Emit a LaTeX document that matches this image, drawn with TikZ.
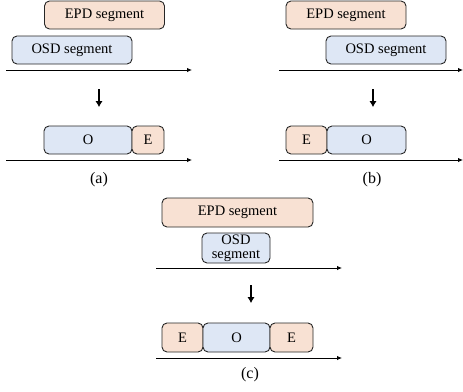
\documentclass[tikz,border=0pt]{standalone}
\usepackage{fontspec}
\setmainfont{Liberation Serif}
\usetikzlibrary{arrows.meta}
\definecolor{epdc}{HTML}{F8E1D3}
\definecolor{osdc}{HTML}{DEE7F5}
\begin{document}
\begin{tikzpicture}[x=1pt,y=-1pt,
  seg/.style={draw=black!85, rounded corners=5pt, line width=0.9pt, inner sep=0pt, minimum height=28pt, font=\fontsize{14.5}{15}\selectfont},
  epd/.style={seg, fill=epdc},
  osd/.style={seg, fill=osdc},
  axis/.style={line width=0.9pt, -{Latex[length=5pt,width=4.5pt]}},
  down/.style={line width=2pt, -{Latex[length=6pt,width=7.5pt]}},
  captxt/.style={font=\fontsize{16}{18}\selectfont}]
\useasboundingbox (0,0) rectangle (463,391);
% (a)
\node[epd, minimum width=120pt] (aE) at (104.5,15) {EPD segment};
\node[osd, minimum width=120pt] (aO) at (72,50) {OSD segment};
\coordinate (aL1) at (6,70); \coordinate (aR1) at (192,70);
\draw[axis] (aL1) -- (aR1);
\coordinate (aD1) at (99,89); \coordinate (aD2) at (99,107);
\draw[down] (aD1) -- (aD2);
\node[osd, minimum width=88pt] (aO2) at (88,140) {O};
\node[epd, minimum width=32pt] (aE2) at (148,140) {E};
\coordinate (aL2) at (6,160); \coordinate (aR2) at (192,160);
\draw[axis] (aL2) -- (aR2);
\node[captxt] (acap) at (99,180) {(a)};
% (b)
\node[epd, minimum width=120pt] (bE) at (346,15) {EPD segment};
\node[osd, minimum width=120pt] (bO) at (386,50) {OSD segment};
\coordinate (bL1) at (279,70); \coordinate (bR1) at (463,70);
\draw[axis] (bL1) -- (bR1);
\coordinate (bD1) at (373,89); \coordinate (bD2) at (373,107);
\draw[down] (bD1) -- (bD2);
\node[epd, minimum width=41pt] (bE2) at (306.5,140) {E};
\node[osd, minimum width=79pt] (bO2) at (366.5,140) {O};
\coordinate (bL2) at (279,160); \coordinate (bR2) at (463,160);
\draw[axis] (bL2) -- (bR2);
\node[captxt] (bcap) at (372,180) {(b)};
% (c)
\node[epd, minimum width=151pt, minimum height=29pt] (cE) at (237.5,212.5) {EPD segment};
\node[osd, minimum width=68pt, minimum height=30pt, align=center, font=\fontsize{14.5}{14}\selectfont] (cO) at (236,248) {OSD\\segment};
\coordinate (cL1) at (156,268); \coordinate (cR1) at (342,268);
\draw[axis] (cL1) -- (cR1);
\coordinate (cD1) at (251,285); \coordinate (cD2) at (251,303);
\draw[down] (cD1) -- (cD2);
\node[epd, minimum width=41pt, minimum height=29pt] (cE2) at (182.5,337.5) {E};
\node[osd, minimum width=67pt, minimum height=29pt] (cO2) at (236.5,337.5) {O};
\node[epd, minimum width=43pt, minimum height=29pt] (cE3) at (291.5,337.5) {E};
\coordinate (cL2) at (156,358); \coordinate (cR2) at (342,358);
\draw[axis] (cL2) -- (cR2);
\node[captxt] (ccap) at (250,375) {(c)};
\end{tikzpicture}
\end{document}
